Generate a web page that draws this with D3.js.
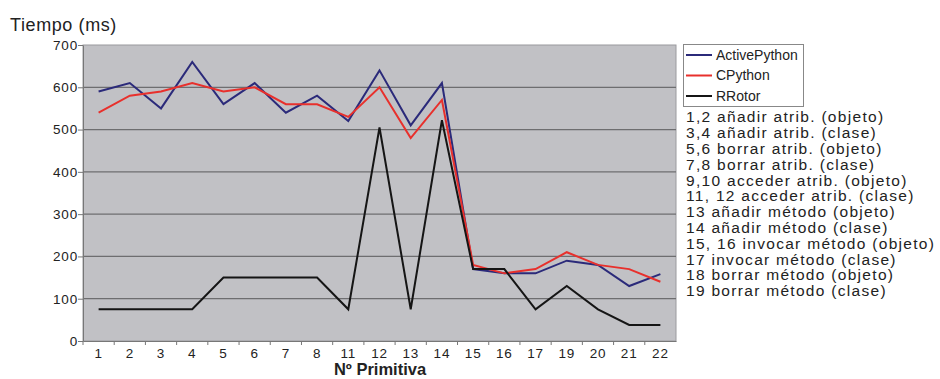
<!DOCTYPE html>
<html>
<head>
<meta charset="utf-8">
<script src="https://cdn.jsdelivr.net/npm/d3@7"></script>
<style>
  body { margin: 0; background: #fff; }
  svg { display: block; font-family: "Liberation Sans", Arial, sans-serif; }
</style>
</head>
<body>
<div id="chart"></div>
<script>
// data
const primitivas = ['1', '2', '3', '4', '5', '6', '7', '8', '11', '12', '13', '14', '15', '16', '17', '19', '20', '21', '22'];
const activePython = [590, 610, 550, 660, 560, 610, 540, 580, 520, 640, 510, 610, 170, 160, 160, 190, 180, 130, 158];
const cPython = [540, 580, 590, 610, 590, 600, 560, 560, 530, 600, 480, 570, 180, 160, 170, 210, 180, 170, 140];
const rRotor = [75, 75, 75, 75, 150, 150, 150, 150, 75, 505, 75, 522, 170, 170, 75, 130, 75, 38, 38];
const yTicks = [0, 100, 200, 300, 400, 500, 600, 700];
const notas = [
    '1,2 añadir atrib. (objeto)',
    '3,4 añadir atrib. (clase)',
    '5,6 borrar atrib. (objeto)',
    '7,8 borrar atrib. (clase)',
    '9,10 acceder atrib. (objeto)',
    '11, 12 acceder atrib. (clase)',
    '13 añadir método (objeto)',
    '14 añadir método (clase)',
    '15, 16 invocar método (objeto)',
    '17 invocar método (clase)',
    '18 borrar método (objeto)',
    '19 borrar método (clase)'
];

const series = [
    {name: 'ActivePython', values: activePython, color: '#2b2a7a'},
    {name: 'CPython', values: cPython, color: '#e8302c'},
    {name: 'RRotor', values: rRotor, color: '#151515'}
];

const width = 940;
const height = 379;
const margin = {top: 45, right: 264, bottom: 38, left: 83};

const svg = d3.select('#chart')
    .append('svg')
        .attr('width', width)
        .attr('height', height);

// scales
const x = d3.scaleBand()
    .domain(primitivas)
    .range([margin.left, width - margin.right]);
const y = d3.scaleLinear()
    .domain([0, 700])
    .range([height - margin.bottom, margin.top]);

// plot background
svg.append('rect')
    .attr('x', margin.left)
    .attr('y', margin.top)
    .attr('width', width - margin.right - margin.left)
    .attr('height', height - margin.bottom - margin.top)
    .attr('fill', '#c1c1c5')
    .attr('stroke', '#9a9a9e')
    .attr('stroke-width', 1);

// grid
svg.append('g')
    .selectAll('line')
    .data(yTicks.slice(1, -1))
    .join('line')
        .attr('x1', margin.left)
        .attr('x2', width - margin.right)
        .attr('y1', d => y(d))
        .attr('y2', d => y(d))
        .attr('stroke', '#6e6e70')
        .attr('stroke-width', 1.2);

// axes
const yAxis = g =>
    g
        .attr('transform', `translate(${margin.left},0)`)
        .call(d3.axisLeft(y).tickValues(yTicks).tickSize(5).tickSizeOuter(0))
        .call(g => g.select('.domain').attr('stroke', '#777'))
        .call(g => g.selectAll('.tick line').attr('stroke', '#777'))
        .call(g => g.selectAll('.tick text')
            .attr('fill', '#222')
            .attr('x', -5)
            .style('letter-spacing', '0.8px')
            .style('font-size', '13.5px')
            .style('font-family', '"Liberation Sans", Arial, sans-serif'));

const xAxis = g =>
    g
        .attr('transform', `translate(0,${height - margin.bottom})`)
        .call(d3.axisBottom(x).tickSize(0).tickSizeOuter(0))
        .call(g => g.select('.domain').attr('stroke', '#777'))
        .call(g => g.selectAll('.tick text')
            .attr('fill', '#222')
            .attr('dy', '0.71em')
            .attr('y', 7)
            .style('letter-spacing', '0.8px')
            .style('font-size', '13.5px')
            .style('font-family', '"Liberation Sans", Arial, sans-serif'));

svg.append('g').call(yAxis);
svg.append('g').call(xAxis);

// small ticks between categories
svg.append('g')
    .selectAll('line')
    .data(primitivas)
    .join('line')
        .attr('x1', d => x(d))
        .attr('x2', d => x(d))
        .attr('y1', height - margin.bottom)
        .attr('y2', height - margin.bottom + 4)
        .attr('stroke', '#777');

// lines
const line = d3.line()
    .x((d, i) => x(primitivas[i]) + x.bandwidth() / 2)
    .y(d => y(d));

svg.append('g')
    .selectAll('path')
    .data(series)
    .join('path')
        .attr('fill', 'none')
        .attr('stroke', d => d.color)
        .attr('stroke-width', 2)
        .attr('stroke-linejoin', 'miter')
        .attr('d', d => line(d.values));

// titles
svg.append('text')
    .attr('x', 10)
    .attr('y', 31)
    .attr('fill', '#222')
    .style('font-size', '18px')
    .style('letter-spacing', '0.6px')
    .text('Tiempo (ms)');

svg.append('text')
    .attr('x', 380)
    .attr('y', 375)
    .attr('text-anchor', 'middle')
    .attr('fill', '#222')
    .style('font-family', '"Liberation Sans Narrow", "Arial Narrow", "Liberation Sans", sans-serif')
    .style('font-weight', 'bold')
    .style('font-size', '16.5px')
    .text('Nº Primitiva');

// legend
const lg = svg.append('g');
lg.append('rect')
    .attr('x', 683.5)
    .attr('y', 44.5)
    .attr('width', 120)
    .attr('height', 62)
    .attr('fill', '#fff')
    .attr('stroke', '#888');

const items = lg.selectAll('g.item')
    .data(series)
    .join('g')
        .attr('class', 'item')
        .attr('transform', (d, i) => `translate(686,${55 + i * 20.5})`);
items.append('line')
    .attr('x1', 0)
    .attr('x2', 26)
    .attr('stroke', d => d.color)
    .attr('stroke-width', 2);
items.append('text')
    .attr('x', 30)
    .attr('dy', '0.35em')
    .attr('fill', '#222')
    .style('font-size', '14px')
    .text(d => d.name);

// notes under legend
lg.selectAll('text.nota')
    .data(notas)
    .join('text')
        .attr('class', 'nota')
        .attr('x', 686)
        .attr('y', (d, i) => 117 + i * 15.8)
        .attr('dy', '0.35em')
        .attr('fill', '#222')
        .style('font-size', '15.5px')
        .style('letter-spacing', '1.3px')
        .text(d => d);
</script>
</body>
</html>
